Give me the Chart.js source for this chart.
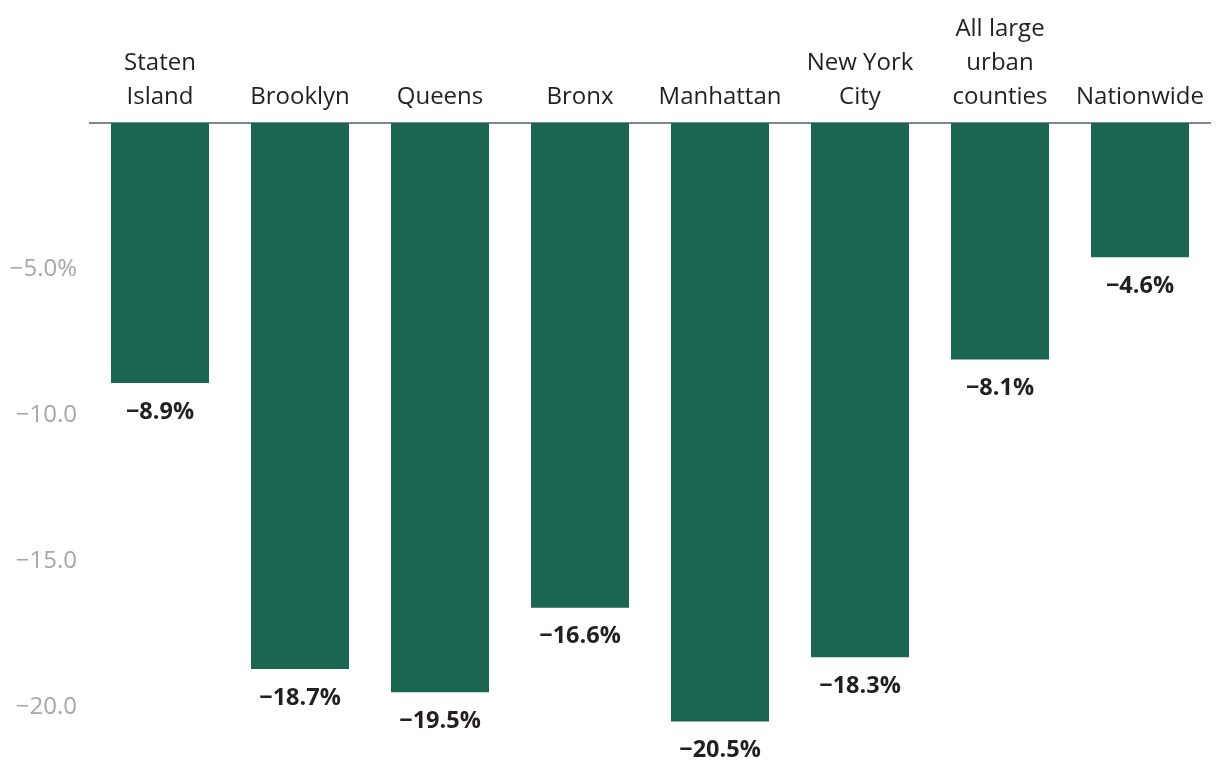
<!DOCTYPE html>
<html>
<head>
<meta charset="utf-8">
<script src="https://cdn.jsdelivr.net/npm/chart.js@4"></script>
<style>
  html, body { margin: 0; padding: 0; background: #fff; }
  #wrap { width: 1220px; height: 784px; }
</style>
</head>
<body>
<div id="wrap"><canvas id="myChart"></canvas></div>
<script>
var categories = [
  ['Staten', 'Island'],
  'Brooklyn',
  'Queens',
  'Bronx',
  'Manhattan',
  ['New York', 'City'],
  ['All large', 'urban', 'counties'],
  'Nationwide'
];
var changes = [-8.9, -18.7, -19.5, -16.6, -20.5, -18.3, -8.1, -4.6];
var tickValues = [-5, -10, -15, -20];

function minus(s) { return s.replace('-', '\u2212'); }

// value labels under each bar
var barLabels = {
  id: 'barLabels',
  afterDatasetsDraw: function(chart) {
    var ctx = chart.ctx;
    var meta = chart.getDatasetMeta(0);
    ctx.save();
    ctx.font = 'bold 23.5px "Open Sans"';
    ctx.fillStyle = '#231f20';
    ctx.textAlign = 'center';
    ctx.textBaseline = 'middle';
    meta.data.forEach(function(bar, i) {
      ctx.fillText(minus(changes[i].toFixed(1)) + '%', bar.x, bar.y + 29);
    });
    ctx.restore();
  }
};

var chart = new Chart('myChart', {
  type: 'bar',
  data: {
    labels: categories,
    datasets: [{
      data: changes,
      backgroundColor: '#1b6650',
      barPercentage: 0.7,
      categoryPercentage: 1.0
    }]
  },
  options: {
    responsive: true,
    maintainAspectRatio: false,
    animation: false,
    layout: { padding: { top: 3, right: 10, bottom: 2, left: 0 } },
    plugins: { legend: { display: false }, tooltip: { enabled: false } },
    scales: {
      x: {
        position: 'top',
        grid: { display: false, drawTicks: false },
        border: { display: true, color: '#7f8a8f', width: 2 },
        ticks: {
          autoSkip: false,
          maxRotation: 0,
          padding: 9,
          color: '#231f20',
          font: { family: 'Open Sans', size: 24, lineHeight: 1.417 }
        }
      },
      y: {
        min: -21.7,
        max: 0,
        grid: { display: false, drawTicks: false },
        border: { display: false },
        afterFit: function(scale) { scale.width = 90; },
        afterBuildTicks: function(scale) {
          scale.ticks = tickValues.map(function(v) { return { value: v }; });
        },
        ticks: {
          padding: 13,
          color: '#a7a7a7',
          font: { family: 'Open Sans', size: 24 },
          callback: function(v) {
            var s = minus(v.toFixed(1));
            return v === -5 ? s + '%' : s;
          }
        }
      }
    }
  },
  plugins: [barLabels]
});
</script>
</body>
</html>
